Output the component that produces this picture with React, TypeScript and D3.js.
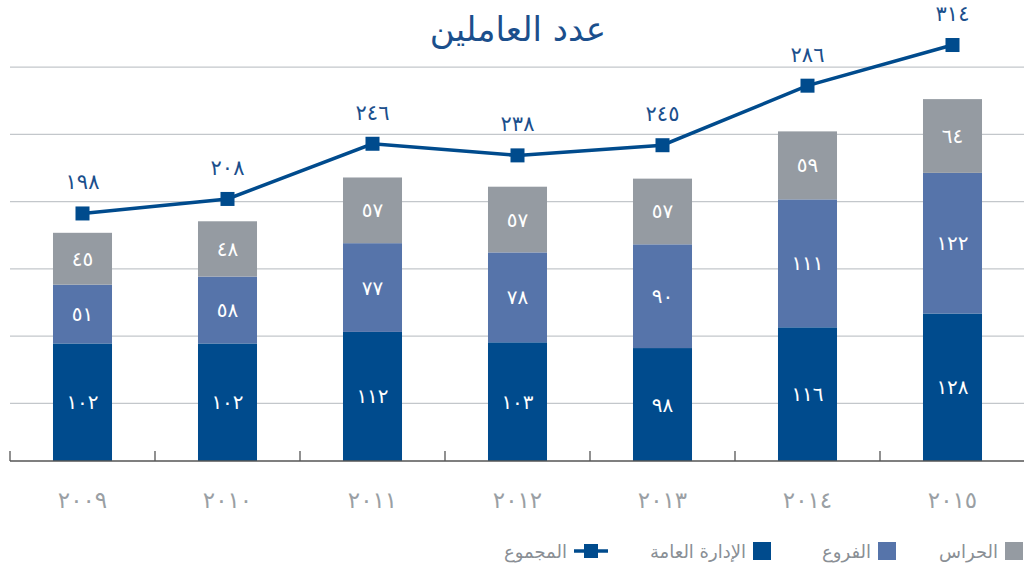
import React from 'react';
import * as d3 from 'd3';

const years = ['2009', '2010', '2011', '2012', '2013', '2014', '2015'];
const headOffice = [102, 102, 112, 103, 98, 116, 128]; // الإدارة العامة
const branches = [51, 58, 77, 78, 90, 111, 122]; // الفروع
const guards = [45, 48, 57, 57, 57, 59, 64]; // الحراس
const totals = [198, 208, 246, 238, 245, 286, 314]; // المجموع
const gridTicks = [50, 100, 150, 200, 250, 300];

const seriesKeys = ['head', 'branches', 'guards'];
const seriesNames = ['الإدارة العامة', 'الفروع', 'الحراس'];
const colors: Record<string, string> = { head: '#004b8d', branches: '#5674aa', guards: '#959ba2' };
const lineColor = '#004b8d';
const titleColor = '#1b4f8c';

const W = 1024;
const H = 569;
const FONT = '"DejaVu Sans", sans-serif';

const toArabic = (s: string | number) => String(s).replace(/\d/g, (d) => '٠١٢٣٤٥٦٧٨٩'[+d]);

export default function App() {
  const rows = years.map((y, i) => ({ year: y, head: headOffice[i], branches: branches[i], guards: guards[i], total: totals[i] }));
  const stack = d3.stack<any>().keys(seriesKeys)(rows);

  const x = d3.scaleBand<string>().domain(years).range([10, 1025]).paddingInner(0.593).paddingOuter(0.2965);
  const yBar = d3.scaleLinear().domain([0, 400]).range([461, 0]);
  const yGrid = d3.scaleLinear().domain([0, 350]).range([470.5, 0]);
  const yLine = d3.scaleLinear().domain([0, 345]).range([501, 0]);
  const step = x.step();
  const cx = (y: string) => (x(y) as number) + x.bandwidth() / 2;

  const line = d3.line<any>().x((d) => cx(d.year)).y((d) => yLine(d.total));

  const boundaries = years.map((y) => (x(y) as number) - (step - x.bandwidth()) / 2);

  const legendItems = [
    { key: 'guards', label: seriesNames[2], sx: 1005 },
    { key: 'branches', label: seriesNames[1], sx: 878 },
    { key: 'head', label: seriesNames[0], sx: 753 },
  ];

  return (
    <svg width={W} height={H} style={{ position: 'absolute', left: 0, top: 0, background: '#fff' }} fontFamily={FONT}>
      {/* grid */}
      {gridTicks.map((t) => (
        <line key={t} x1={10} x2={W} y1={yGrid(t)} y2={yGrid(t)} stroke="#c3c7cb" strokeWidth={1.3} />
      ))}
      {/* bars */}
      {stack.map((s) => (
        <g key={s.key} fill={colors[s.key]}>
          {s.map((d: any, i: number) => (
            <rect key={i} x={x(years[i])} width={x.bandwidth()} y={yBar(d[1])} height={yBar(d[0]) - yBar(d[1])} />
          ))}
        </g>
      ))}
      {/* bar labels */}
      {stack.map((s) => (
        <g key={'l' + s.key}>
          {s.map((d: any, i: number) => (
            <text key={i} x={cx(years[i])} y={(yBar(d[0]) + yBar(d[1])) / 2} textAnchor="middle" dominantBaseline="central" fill="#fff" fontSize={20}>
              {toArabic(d[1] - d[0])}
            </text>
          ))}
        </g>
      ))}
      {/* axis */}
      <line x1={10} x2={W} y1={yBar(0)} y2={yBar(0)} stroke="#555" strokeWidth={1.5} />
      {boundaries.map((b, i) => (
        <line key={i} x1={b} x2={b} y1={yBar(0)} y2={yBar(0) - 10} stroke="#555" strokeWidth={1.3} />
      ))}
      {years.map((y) => (
        <text key={y} x={cx(y)} y={500} textAnchor="middle" dominantBaseline="central" fill="#9a9fa4" fontSize={23}>
          {toArabic(y)}
        </text>
      ))}
      {/* total line */}
      <path d={line(rows) as string} fill="none" stroke={lineColor} strokeWidth={3.5} />
      {rows.map((d) => (
        <rect key={d.year} x={cx(d.year) - 7} y={yLine(d.total) - 7} width={14} height={14} fill={lineColor} />
      ))}
      {rows.map((d) => (
        <text key={'t' + d.year} x={cx(d.year)} y={yLine(d.total) - 31} textAnchor="middle" dominantBaseline="central" fill={titleColor} fontSize={21}>
          {toArabic(d.total)}
        </text>
      ))}
      {/* title */}
      <text x={518} y={41} textAnchor="middle" fill={titleColor} fontSize={34} fontWeight={500}>
        عدد العاملين
      </text>
      {/* legend */}
      {legendItems.map((it) => (
        <g key={it.key}>
          <rect x={it.sx} y={542} width={18} height={18} fill={colors[it.key]} />
          <text x={it.sx - 7} y={551} textAnchor="end" dominantBaseline="central" fill="#8a8f95" fontSize={18}>
            {it.label}
          </text>
        </g>
      ))}
      <g>
        <line x1={574} x2={608} y1={551} y2={551} stroke={lineColor} strokeWidth={3.5} />
        <rect x={584} y={544} width={14} height={14} fill={lineColor} />
        <text x={567} y={551} textAnchor="end" dominantBaseline="central" fill="#8a8f95" fontSize={18}>
          المجموع
        </text>
      </g>
    </svg>
  );
}
